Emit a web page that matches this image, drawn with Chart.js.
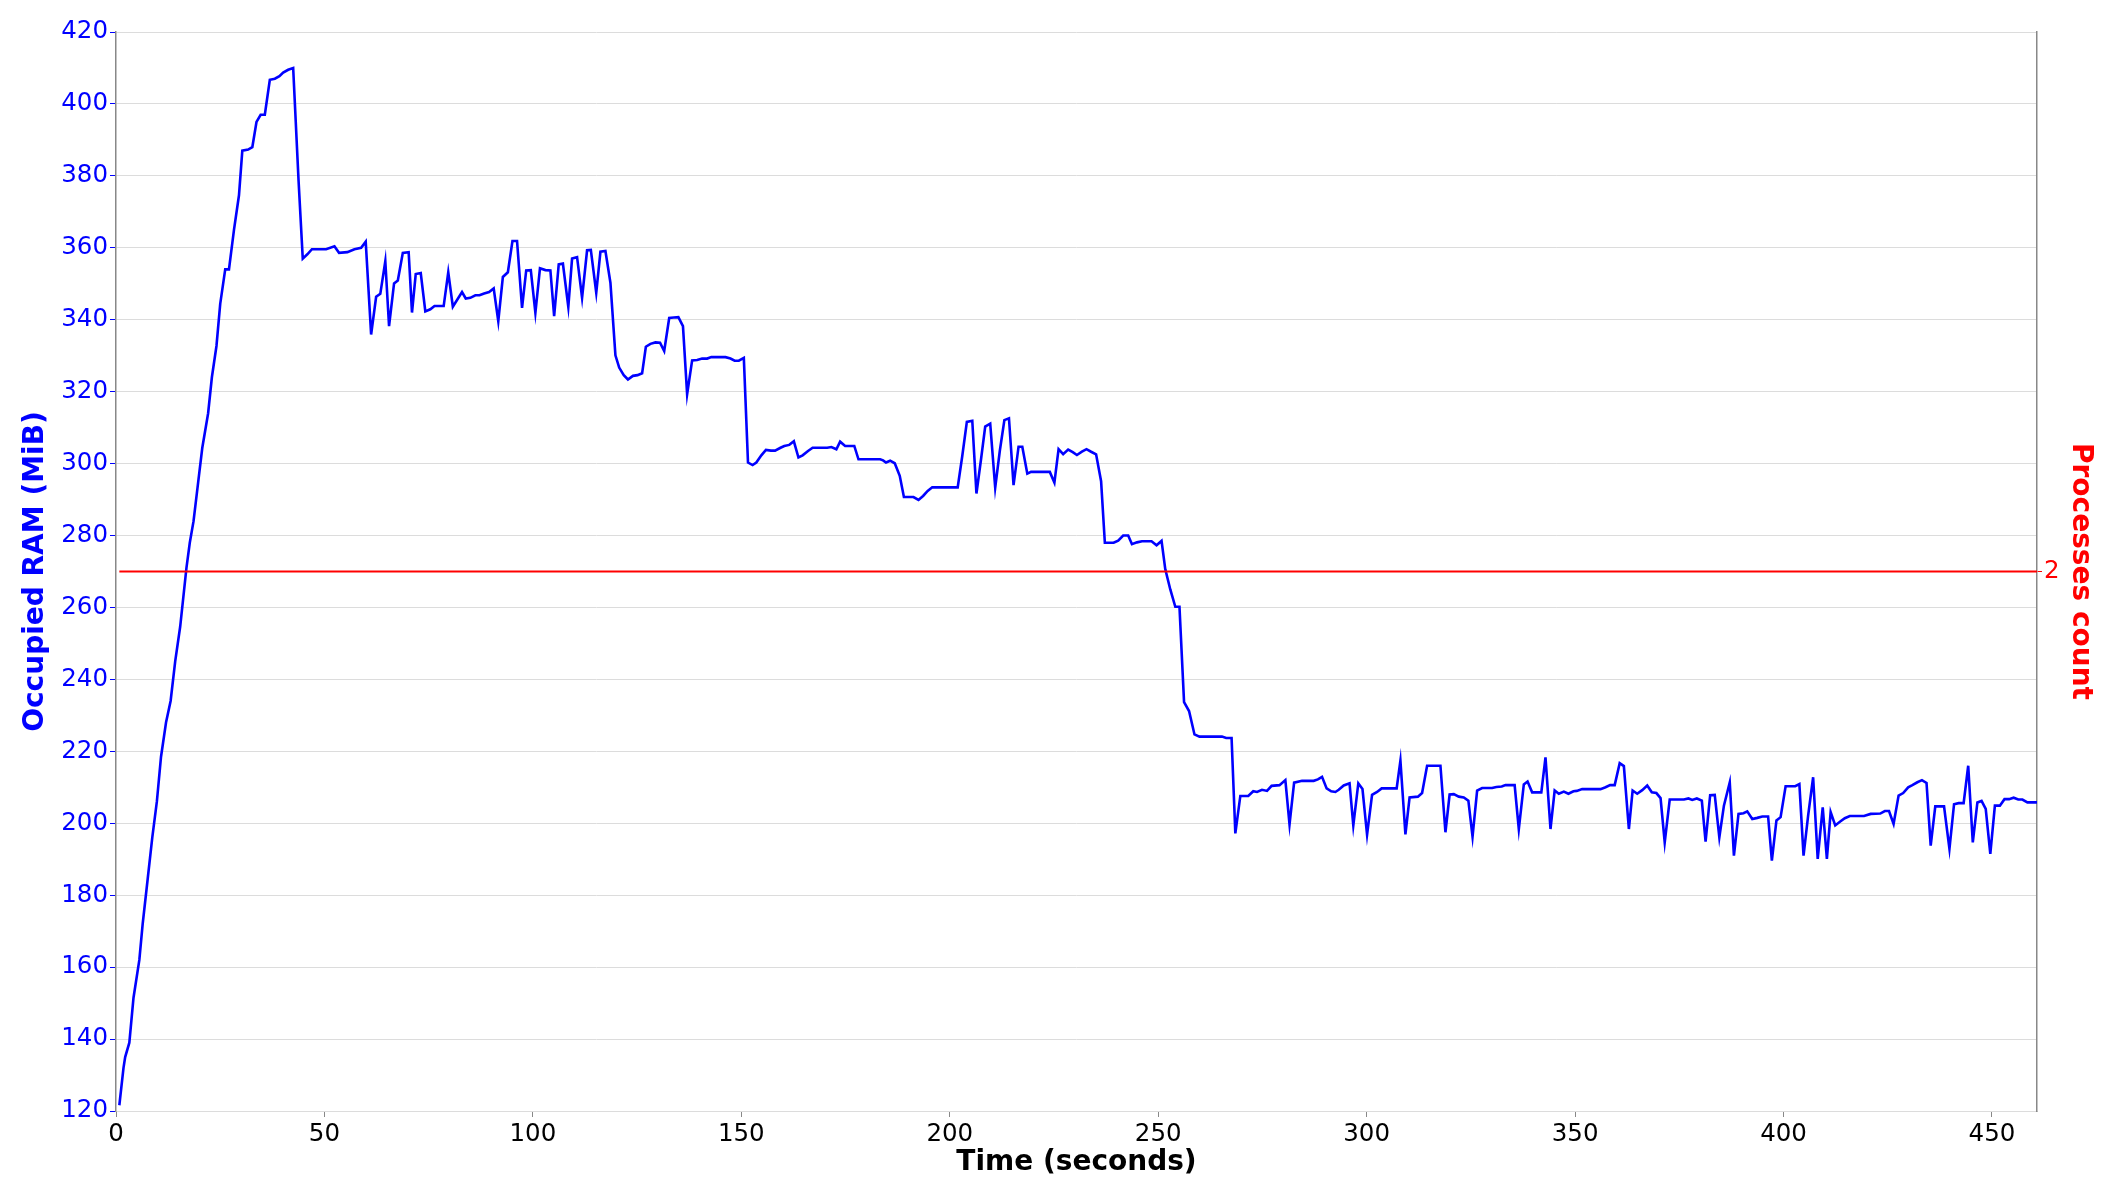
<!DOCTYPE html>
<html>
<head>
<meta charset="utf-8">
<title>Occupied RAM over time</title>
<script src="https://cdn.jsdelivr.net/npm/chart.js@4.4.1/dist/chart.umd.min.js"></script>
<style>
    html, body { margin: 0; padding: 0; background: #ffffff; }
    #ramChart { display: block; }
</style>
</head>
<body>
<canvas id="ramChart" width="2114" height="1195"></canvas>
<script>
// Sample times (seconds) and occupied RAM (MiB)
const sampleTimes = [
    0.8, 1.8, 2.2, 3.2, 4.2, 5.6, 6.4, 7.6, 8.7, 9.8, 10.8, 12.0, 13.1, 14.2, 15.4, 16.9, 17.7, 18.6, 19.7, 20.7,
    22.1, 23.0, 24.1, 25.0, 26.2, 27.1, 28.3, 29.5, 30.3, 31.7, 32.7, 33.7, 34.7, 35.7, 36.9, 38.1, 39.2, 40.1, 41.3, 42.5,
    43.8, 44.8, 45.9, 47.0, 50.4, 52.4, 53.5, 55.5, 57.2, 58.8,
    59.9, 61.2, 62.4, 63.4, 64.6, 65.5, 66.7, 67.6, 68.8, 70.2, 71.0, 71.9, 73.1, 74.2, 75.4, 76.4, 78.6, 79.7, 80.8, 83.0,
    83.9, 85.0, 86.2, 87.2, 88.3, 89.5, 90.6, 91.7, 92.8, 94.0, 95.1, 96.2, 97.4, 98.4, 99.5, 100.6, 101.7, 103.0, 104.2, 105.1,
    106.2, 107.2, 108.5, 109.4, 110.6, 111.8, 113.0, 113.9, 115.2, 116.2, 117.4, 118.6, 119.8,
    120.7, 121.8, 122.8, 124.0, 125.1, 126.2, 127.1, 128.2, 129.4, 130.5, 131.5, 132.7, 133.8, 134.9, 136.0, 137.0, 138.2, 139.4,
    140.6, 141.8, 142.8, 146.2, 147.4, 148.4, 149.4, 150.6, 151.6, 152.7, 153.6, 154.8, 155.9, 157.1, 158.1, 159.4, 160.3, 161.5,
    162.6, 163.7, 164.7, 166.0, 167.1, 170.6, 171.6, 172.8,
    173.7, 174.9, 177.1, 178.1, 183.3, 184.0, 184.7, 185.7, 186.8, 188.0, 189.0, 191.3, 192.5, 193.6, 194.7, 195.8, 201.9, 203.0,
    204.1, 205.4, 206.4, 207.5, 208.5, 209.7, 210.9, 212.0, 213.1, 214.2, 215.3, 216.5, 217.4, 218.6, 219.5, 224.0, 225.1, 226.1,
    227.2, 228.4, 229.5, 230.5, 231.7, 232.8, 233.9, 235.1,
    236.3, 237.2, 239.3, 240.4, 241.6, 242.8, 243.7, 244.9, 246.1, 248.4, 249.6, 250.8, 251.7, 252.9, 254.1, 255.1, 256.2, 257.4,
    258.7, 259.9, 265.3, 266.3, 267.6, 268.5, 269.7, 271.6, 272.8, 273.7, 274.9, 276.1, 277.2, 279.1, 280.5, 281.5, 282.6, 284.5,
    287.3, 288.3, 289.3, 290.4, 291.5, 292.5,
    293.3, 294.5, 295.9, 296.8, 298.0, 299.0, 300.1, 301.3, 302.5, 303.6, 307.2, 308.1, 309.3, 310.3, 312.3, 313.3, 314.5, 317.7,
    318.9, 319.9, 320.9, 322.1, 323.3, 324.4, 325.4, 326.5, 327.7, 330.1, 331.1, 332.4, 333.3, 335.5, 336.5, 337.7, 338.6, 339.7,
    341.9, 342.9, 344.1, 345.1, 346.1, 347.3, 348.4, 349.6, 350.4,
    351.7, 356.1, 357.3, 358.4, 359.5, 360.7, 361.7, 362.9, 363.8, 364.9, 366.1, 367.3, 368.4, 369.5, 370.5, 371.5, 372.7, 376.1,
    377.2, 378.1, 379.2, 380.4, 381.3, 382.4, 383.5, 384.6, 385.7, 387.1, 388.1, 389.2, 390.4, 391.3, 392.5, 393.7, 394.9, 396.3,
    397.2, 398.3, 399.3, 400.5, 402.8, 403.8,
    404.8, 405.9, 407.1, 408.2, 409.4, 410.4, 411.3, 412.4, 413.6, 414.7, 415.9, 419.3, 420.9, 423.2, 424.3, 425.3, 426.4, 427.6,
    428.7, 429.9, 430.9, 432.1, 433.2, 434.3, 435.3, 436.4, 438.5, 439.8, 440.9, 442.0, 443.2, 444.3, 445.4, 446.5, 447.5, 448.5,
    449.6, 450.7, 451.9, 453.0, 454.1, 455.2, 456.3, 457.3, 458.5, 460.8
];

const ramValues = [
    121.6, 132, 135, 139, 151.5, 162, 172, 184.5, 196, 206, 218.5, 228, 234, 245, 254.7, 271, 278, 284, 294.7, 304.4,
    314, 324, 332.7, 344.4, 354, 354, 365, 374.6, 387, 387.3, 388, 395, 397, 397, 406.7, 407, 407.7, 408.7, 409.5, 410,
    378.5, 357, 358.2, 359.6, 359.6, 360.4, 358.6, 358.8, 359.6, 360,
    361.7, 335.9, 346.4, 347.2, 356.3, 338.2, 350.1, 350.9, 358.6, 358.8, 342, 352.7, 353, 342.3, 342.9, 343.8, 343.8, 353.2, 343.6, 347.7,
    345.9, 346.1, 346.8, 346.8, 347.3, 347.7, 348.7, 339.6, 351.9, 353.2, 361.9, 361.9, 343.3, 353.7, 353.8, 341.9, 354.3, 353.8, 353.7, 341,
    355.4, 355.6, 343.6, 357, 357.4, 346.1, 359.3, 359.4, 347.5, 358.9, 359.1, 350.3, 330.1,
    326.7, 324.6, 323.4, 324.4, 324.6, 325.1, 332.5, 333.3, 333.7, 333.6, 331.3, 340.5, 340.6, 340.7, 338.2, 319.3, 328.7, 328.8,
    329.2, 329.2, 329.6, 329.6, 329.2, 328.6, 328.6, 329.4, 300.3, 299.6, 300.3, 302.3, 303.8, 303.6, 303.6, 304.4, 304.9, 305.2,
    306.2, 301.7, 302.3, 303.5, 304.4, 304.4, 304.6, 304,
    306.1, 304.9, 304.9, 301.2, 301.2, 300.9, 300.3, 300.8, 300.1, 296.6, 290.7, 290.7, 289.9, 291, 292.4, 293.4, 293.4, 302.1,
    311.6, 311.9, 291.7, 301.2, 310.3, 311.1, 293.3, 303.5, 312.1, 312.6, 294, 304.7, 304.7, 297.2, 297.7, 297.7, 294.7, 304,
    302.6, 303.9, 303.2, 302.4, 303.3, 304, 303.3, 302.6,
    295.1, 278, 278, 278.6, 280, 280, 277.6, 278.1, 278.4, 278.4, 277.3, 278.5, 270.6, 265, 260.2, 260.2, 233.7, 231.2,
    224.7, 224.1, 224.1, 223.7, 223.7, 197.2, 207.6, 207.6, 208.9, 208.7, 209.3, 209, 210.4, 210.6, 212, 199.7, 211.3, 211.8,
    211.8, 212.2, 212.9, 209.7, 208.9, 208.7,
    209.3, 210.5, 211.1, 199.4, 211.1, 209.5, 196.8, 207.9, 208.7, 209.7, 209.7, 217.4, 196.9, 207.2, 207.4, 208.4, 216, 216,
    197.5, 208, 208.1, 207.4, 207.2, 206.3, 196.3, 209.1, 209.8, 209.8, 210.1, 210.2, 210.6, 210.6, 198.4, 210.8, 211.6, 208.6,
    208.6, 218.3, 198.4, 209.1, 208.2, 208.8, 208.2, 208.9, 209,
    209.5, 209.5, 210, 210.6, 210.6, 216.7, 215.9, 198.4, 209.1, 208.2, 209.2, 210.5, 208.6, 208.4, 207, 194.7, 206.6, 206.6,
    206.9, 206.5, 206.9, 206.3, 194.9, 207.8, 207.9, 196.1, 204.9, 211.4, 191, 202.6, 202.8, 203.3, 201.2, 201.5, 201.9, 201.9,
    189.6, 200.8, 201.7, 210.3, 210.3, 210.9,
    191, 202.1, 212.8, 190.1, 204.4, 190.1, 203.1, 199.4, 200.5, 201.4, 202, 202, 202.6, 202.7, 203.4, 203.4, 199.8, 207.7,
    208.4, 210, 210.6, 211.4, 212, 211.2, 193.8, 204.7, 204.7, 192.9, 205.3, 205.6, 205.6, 216, 194.7, 205.8, 206.2, 204,
    191.5, 204.9, 204.9, 206.7, 206.7, 207.1, 206.6, 206.6, 205.8, 205.8
];

// Processes count stays at 2 for the whole run
const processTimes = [0.8, 460.8];
const processCounts = [2, 2];

// Axis ticks
const timeTicks = [0, 50, 100, 150, 200, 250, 300, 350, 400, 450];
const ramTicks = [120, 140, 160, 180, 200, 220, 240, 260, 280, 300, 320, 340, 360, 380, 400, 420];
const processTicks = [2];

const colors = {
    ram: '#0000ff',
    processes: '#ff0000',
    grid: '#dcdcdc',
    spine: '#888888',
    text: '#000000'
};

const FONT = "'DejaVu Sans', 'Liberation Sans', sans-serif";

function toPoints(xs, ys) {
    return xs.map((x, i) => ({ x: x, y: ys[i] }));
}

function fixedTicks(values) {
    return function(scale) {
        scale.ticks = values.map(v => ({ value: v }));
    };
}

const ctx = document.getElementById('ramChart').getContext('2d');

const ramChart = new Chart(ctx, {
    type: 'line',
    data: {
        datasets: [{
            label: 'Processes count',
            data: toPoints(processTimes, processCounts),
            yAxisID: 'yProc',
            borderColor: colors.processes,
            borderWidth: 2.2,
            pointRadius: 0,
            tension: 0,
            order: 0
        }, {
            label: 'Occupied RAM (MiB)',
            data: toPoints(sampleTimes, ramValues),
            yAxisID: 'yRam',
            borderColor: colors.ram,
            borderWidth: 2.6,
            pointRadius: 0,
            tension: 0,
            order: 1
        }]
    },
    options: {
        responsive: false,
        animation: false,
        devicePixelRatio: 1,
        layout: {
            padding: { top: 32, left: 0, right: 0, bottom: 0 }
        },
        plugins: {
            legend: { display: false },
            tooltip: { enabled: false }
        },
        scales: {
            x: {
                type: 'linear',
                min: 0,
                max: 460.8,
                afterBuildTicks: fixedTicks(timeTicks),
                afterFit: function(scale) { scale.height = 84; },
                grid: {
                    drawOnChartArea: false,
                    tickLength: 6,
                    tickColor: colors.spine
                },
                border: { color: colors.grid, width: 1 },
                ticks: {
                    color: colors.text,
                    padding: 3,
                    maxRotation: 0,
                    font: { family: FONT, size: 24.5 }
                },
                title: {
                    display: true,
                    text: 'Time (seconds)',
                    color: colors.text,
                    padding: { top: 0, bottom: 15 },
                    font: { family: FONT, size: 28, weight: 'bold' }
                }
            },
            yRam: {
                type: 'linear',
                position: 'left',
                min: 120,
                max: 420,
                afterBuildTicks: fixedTicks(ramTicks),
                afterFit: function(scale) { scale.width = 116; },
                grid: {
                    color: colors.grid,
                    lineWidth: 1,
                    tickLength: 6,
                    tickColor: colors.ram
                },
                border: { color: colors.spine, width: 1.5 },
                ticks: {
                    color: colors.ram,
                    padding: 2,
                    font: { family: FONT, size: 24.5 }
                },
                title: {
                    display: true,
                    text: 'Occupied RAM (MiB)',
                    color: colors.ram,
                    padding: { top: 19, bottom: 0 },
                    font: { family: FONT, size: 28, weight: 'bold' }
                }
            },
            yProc: {
                type: 'linear',
                position: 'right',
                min: 1.9,
                max: 2.1,
                afterBuildTicks: fixedTicks(processTicks),
                afterFit: function(scale) { scale.width = 77; },
                grid: {
                    drawOnChartArea: false,
                    tickLength: 5,
                    tickColor: colors.processes
                },
                border: { color: colors.spine, width: 1.5 },
                ticks: {
                    color: colors.processes,
                    padding: 2,
                    font: { family: FONT, size: 24.5 }
                },
                title: {
                    display: true,
                    text: 'Processes count',
                    color: colors.processes,
                    padding: { top: 17, bottom: 0 },
                    font: { family: FONT, size: 28, weight: 'bold' }
                }
            }
        }
    }
});
</script>
</body>
</html>
